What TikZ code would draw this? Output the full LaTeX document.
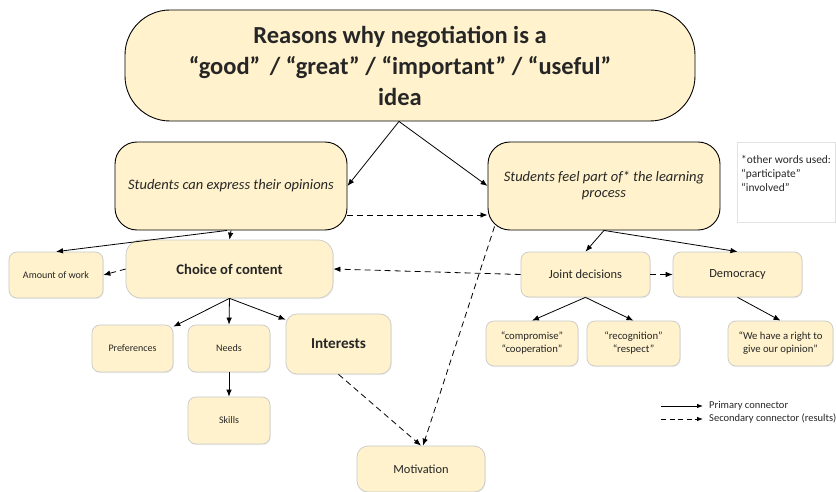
\documentclass[tikz,border=0pt]{standalone}
\usepackage{fontspec}
\setmainfont{Carlito}
\usetikzlibrary{arrows.meta,calc,shadows}
\definecolor{boxfill}{HTML}{FFF2CC}
\definecolor{lightedge}{HTML}{C9C9C9}
\definecolor{noteedge}{HTML}{E2E2E2}
\definecolor{txt}{HTML}{262626}
\tikzset{
  conn/.style={line width=0.8pt,-{Latex[length=7pt,width=5.5pt]}},
  sconn/.style={conn,dash pattern=on 6pt off 4pt},
  mainbox/.style={draw=black,line width=0.9pt,fill=boxfill,rounded corners=22pt,align=center,inner sep=0pt,text=txt},
  subbox/.style={draw=lightedge,line width=0.7pt,fill=boxfill,rounded corners=8pt,align=center,inner sep=0pt,text=txt,
    drop shadow={opacity=0.12,shadow xshift=0.8pt,shadow yshift=-1.2pt}},
  small/.style={font=\fontsize{10}{12}\selectfont},
  quote/.style={font=\fontsize{10.7}{13}\selectfont},
  mid/.style={font=\fontsize{12.4}{15}\selectfont},
  big/.style={font=\fontsize{14.6}{17}\selectfont\bfseries},
}
\begin{document}
\begin{tikzpicture}[x=1pt,y=-1pt]
\useasboundingbox[fill=white] (0,0) rectangle (836,492);
% main boxes
\node[mainbox,rounded corners=45pt,minimum width=570pt,minimum height=111pt] (title) at (410,65.5) {};
\node[align=center,inner sep=0pt,text=txt,font=\fontsize{24.5}{31}\selectfont\bfseries] (titletext) at (400,66)
  {Reasons why negotiation is a\\“good”\ \,/ “great” / “important” / “useful”\\idea};
\node[mainbox,minimum width=232pt,minimum height=88pt,font=\fontsize{14.5}{16}\selectfont\itshape]
  (express) at (231,186) {Students can express their opinions};
\node[mainbox,minimum width=232pt,minimum height=88pt,font=\fontsize{14.5}{16}\selectfont\itshape]
  (feel) at (604,186) {Students feel part of* the learning\\process};
% note
\node[draw=noteedge,line width=0.6pt,fill=white,minimum width=98pt,minimum height=80pt,inner sep=0pt]
  (note) at (786.5,182) {};
\node[anchor=north west,align=left,inner sep=0pt,text=txt,font=\fontsize{11.4}{14}\selectfont]
  (notetext) at (741,155) {*other words used:\\“participate”\\“involved”};
% sub boxes
\node[subbox,rounded corners=15pt,minimum width=207pt,minimum height=58pt,big] (choice) at (229.5,269) {Choice of content};
\node[subbox,minimum width=94pt,minimum height=46pt,small] (amount) at (56,275) {Amount of work};
\node[subbox,minimum width=129pt,minimum height=45pt,mid] (joint) at (585.5,274.5) {Joint decisions};
\node[subbox,minimum width=129pt,minimum height=45pt,mid] (demo) at (737.5,274.5) {Democracy};
\node[subbox,minimum width=92pt,minimum height=45pt,quote] (comp) at (532,343.5) {“compromise”\\“cooperation”};
\node[subbox,minimum width=93pt,minimum height=45pt,quote] (recog) at (633.5,343.5) {“recognition”\\“respect”};
\node[subbox,minimum width=105pt,minimum height=45pt,quote] (right) at (780.5,343.5) {“We have a right to\\give our opinion”};
\node[subbox,minimum width=81pt,minimum height=47pt,small] (pref) at (132.5,348.5) {Preferences};
\node[subbox,minimum width=82pt,minimum height=47pt,small] (needs) at (229,348.5) {Needs};
\node[subbox,rounded corners=11pt,minimum width=105pt,minimum height=60pt,font=\fontsize{15.2}{17}\selectfont\bfseries] (inter) at (338.5,344) {Interests};
\node[subbox,minimum width=82pt,minimum height=47pt,small] (skills) at (229,420.5) {Skills};
\node[subbox,rounded corners=11pt,minimum width=128pt,minimum height=46pt,mid] (motiv) at (421,469) {Motivation};
% connectors
\coordinate (apex) at ([xshift=-11pt]title.south);
\draw[conn] (apex) -- (express.east);
\draw[conn] (apex) -- (feel.west);
\draw[sconn] ($(express.east)+(0,29)$) -- ($(feel.west)+(0,29)$);
\draw[conn] (express.south) -- (choice.north);
\draw[conn] ($(express.south)+(-4,0)$) -- (amount.north);
\draw[sconn] (choice.west) -- (amount.east);
\draw[sconn] (joint.west) -- (choice.east);
\draw[sconn] (joint.east) -- (demo.west);
\draw[conn] (feel.south) -- (joint.north);
\draw[conn] (feel.south) -- (demo.north);
\draw[conn] (joint.south) -- (comp.north);
\draw[conn] (joint.south) -- (recog.north);
\draw[conn] (demo.south) -- (right.north);
\draw[conn] (choice.south) -- ($(pref.north east)+(0,2)$);
\draw[conn] (choice.south) -- (needs.north);
\draw[conn] (choice.south) -- ($(inter.north west)+(0,6)$);
\draw[conn] (needs.south) -- (skills.north);
\draw[sconn] (inter.south) -- (motiv.north);
\draw[sconn] ($(feel.south west)+(7,-4)$) -- ($(motiv.north)+(2,0)$);
% legend
\coordinate (l1a) at (661,406); \coordinate (l1b) at (703,406);
\coordinate (l2a) at (661,419); \coordinate (l2b) at (703,419);
\draw[line width=0.8pt,-{Latex[length=6pt,width=4.5pt]}] (l1a) -- (l1b);
\draw[line width=0.8pt,dash pattern=on 5pt off 3.5pt,-{Latex[length=6pt,width=4.5pt]}] (l2a) -- (l2b);
\node[anchor=west,inner sep=0pt,text=txt,font=\fontsize{10.5}{12}\selectfont] (leg1) at (709,406) {Primary connector};
\node[anchor=west,inner sep=0pt,text=txt,font=\fontsize{10.5}{12}\selectfont] (leg2) at (709,419) {Secondary connector (results)};
\end{tikzpicture}
\end{document}
